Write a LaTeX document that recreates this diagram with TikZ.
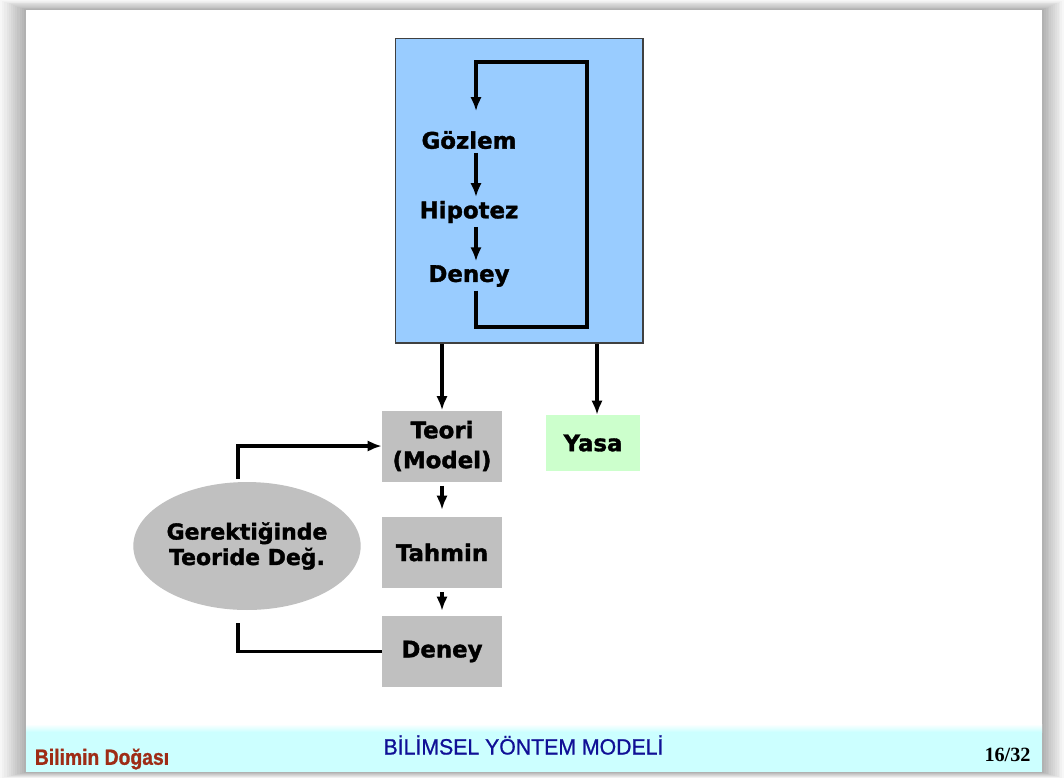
\documentclass[tikz,border=0pt]{standalone}
\usepackage{fontspec}
\setmainfont{DejaVu Sans}[BoldFeatures={FakeBold=1.6}]
\newfontfamily\bantfont{Liberation Sans}[FakeStretch=0.88, BoldFeatures={FakeBold=1}]
\newfontfamily\baslikfont{Liberation Sans}[FakeStretch=0.96, FakeBold=0.8]
\newfontfamily\sayfafont{Liberation Serif}
\usetikzlibrary{shapes.geometric,arrows.meta}
\definecolor{kutumavi}{RGB}{153,204,255}
\definecolor{gri}{RGB}{192,192,192}
\definecolor{yesil}{RGB}{204,255,204}
\definecolor{bant}{RGB}{204,255,255}
\definecolor{kiremit}{RGB}{158,44,22}
\definecolor{lacivert}{RGB}{16,16,150}
\tikzset{
  etiket/.style={font=\bfseries\fontsize{13}{17}\selectfont, align=center, inner sep=2pt},
  grikutu/.style={etiket, fill=gri, minimum width=2.4cm, minimum height=1.42cm, inner sep=0pt},
  ok/.style={-{Latex[length=8pt,width=6.5pt]}, line width=2pt},
  cizgi/.style={line width=2pt}
}
\begin{document}
\begin{tikzpicture}[x=0.02cm,y=-0.02cm]
  \useasboundingbox (0,0) rectangle (1064,778);
  % golge
  \foreach \k in {0,...,12} {
    \pgfmathsetmacro{\t}{\k/12}
    \pgfmathsetmacro{\g}{3+30*\t}
    \fill[black!\g] ({26*\t},{10*\t}) rectangle ({1064-22*\t},{778-6*\t});
  }
  \fill[white] (26,10) rectangle (1042,772);
  \shade[top color=white, bottom color=bant] (26,724) rectangle (1042,732);
  \fill[bant] (26,732) rectangle (1042,772);

  % ust kutu
  \node[draw=black!75, line width=0.6pt, fill=kutumavi, minimum width=4.96cm, minimum height=6.1cm, inner sep=0pt] (kutu) at (519,190.5) {};
  \node[etiket] (gozlem) at (469,140) {Gözlem};
  \node[etiket] (hipotez) at (469,212) {Hipotez};
  \node[etiket] (deney1) at (469,276) {Deney};
  \coordinate (altsag) at (587,327);
  \coordinate (ustsag) at (587,62);
  \draw[ok] ([xshift=0.14cm]gozlem.south) -- ([xshift=0.14cm]hipotez.north);
  \draw[ok] ([xshift=0.14cm]hipotez.south) -- ([xshift=0.14cm]deney1.north);
  \draw[ok] ([xshift=0.14cm]deney1.south) |- (altsag) -- (ustsag) -| ([xshift=0.14cm,yshift=0.32cm]gozlem.north);

  % alt kisim
  \node[grikutu] (teori) at (442,446) {Teori\\(Model)};
  \node[grikutu] (tahmin) at (442,552.5) {Tahmin};
  \node[grikutu] (deney2) at (442,651.5) {Deney};
  \node[etiket, fill=yesil, minimum width=1.88cm, minimum height=1.12cm, inner sep=0pt] (yasa) at (593,443) {Yasa};
  \node[ellipse, fill=gri, minimum width=3.8cm, minimum height=2.56cm, inner sep=0pt,
        font=\bfseries\fontsize{12.5}{14.5}\selectfont, align=center] (degis) at (247,546) {Gerektiğinde\\Teoride Değ.};

  \draw[ok] (kutu.south -| teori.north) -- (teori.north);
  \draw[ok] ([xshift=0.08cm]kutu.south -| yasa.north) -- ([xshift=0.08cm]yasa.north);
  \draw[ok, shorten <=0.08cm, shorten >=0.14cm] (teori.south) -- (tahmin.north);
  \draw[ok, shorten <=0.08cm, shorten >=0.1cm] (tahmin.south) -- (deney2.north);
  \draw[ok] ([xshift=-0.18cm,yshift=0.06cm]degis.north) |- (teori.west);
  \draw[cizgi] ([xshift=-0.18cm,yshift=-0.26cm]degis.south) |- (deney2.west);

  % alt bant
  \node[font=\bantfont\bfseries\fontsize{12.5}{14}\selectfont, text=kiremit] (ders) at (102,759) {Bilimin Doğası};
  \node[font=\baslikfont\fontsize{12.6}{14}\selectfont, text=lacivert] (baslik) at (523.5,745) {BİLİMSEL YÖNTEM MODELİ};
  \node[font=\sayfafont\bfseries\fontsize{11.5}{13}\selectfont] (sayfa) at (1007.5,755) {16/32};
\end{tikzpicture}
\end{document}
